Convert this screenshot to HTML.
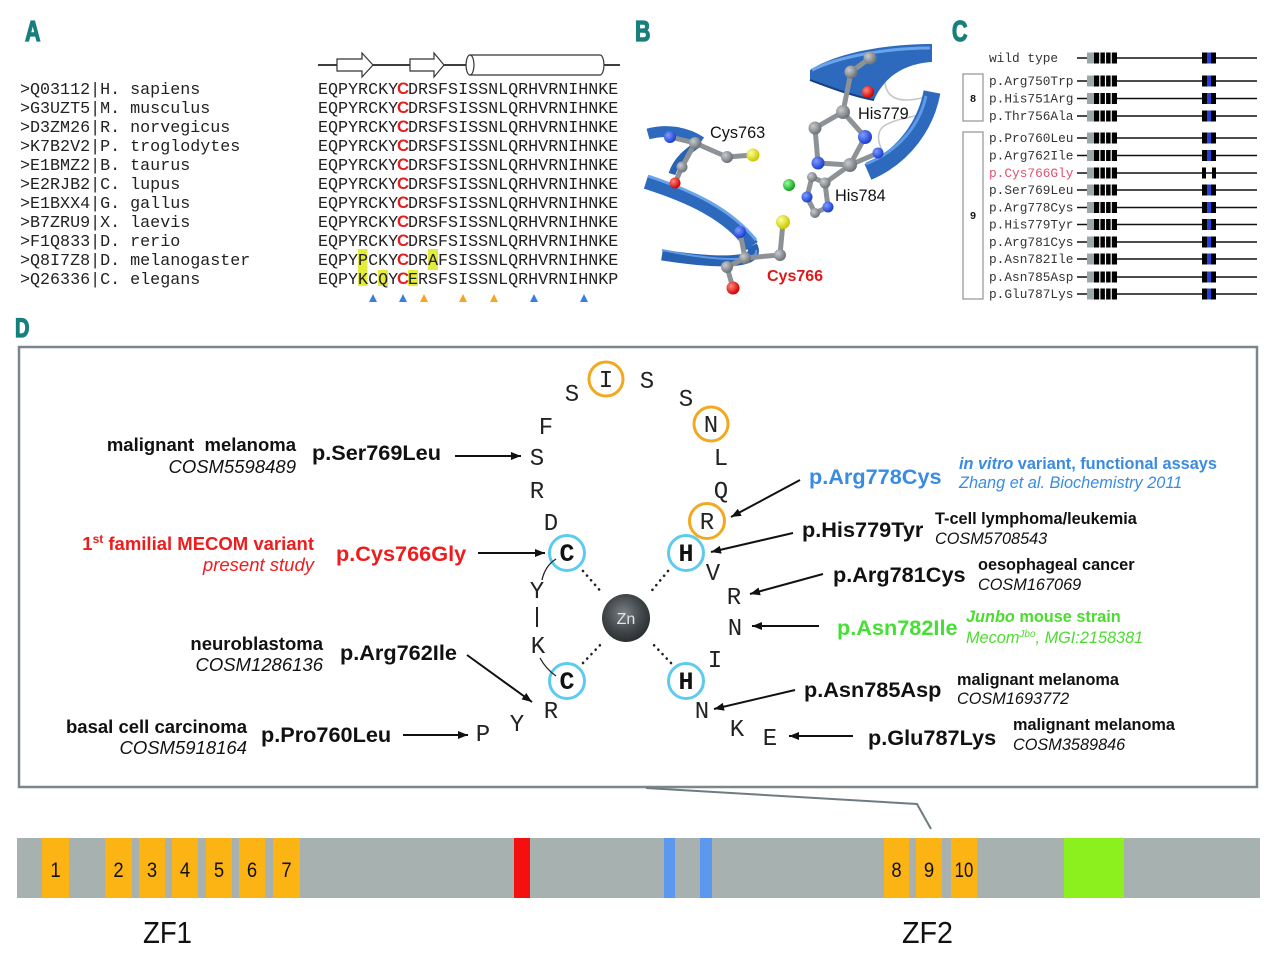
<!DOCTYPE html>
<html><head><meta charset="utf-8"><style>
html,body{margin:0;padding:0;background:#fff;}
svg{display:block;}
</style></head><body>
<svg width="1280" height="954" viewBox="0 0 1280 954" xmlns="http://www.w3.org/2000/svg" font-family="Liberation Sans, Arial, sans-serif">
<defs>
<marker id="ah" viewBox="0 0 10 8" refX="10" refY="4" markerWidth="10" markerHeight="8" markerUnits="userSpaceOnUse" orient="auto"><path d="M0,0 L10,4 L0,8 Z" fill="#111"/></marker>
<radialGradient id="zn" cx="45%" cy="40%" r="60%"><stop offset="0" stop-color="#7a8084"/><stop offset="0.6" stop-color="#43494c"/><stop offset="1" stop-color="#2b2f31"/></radialGradient>
<radialGradient id="gb" cx="35%" cy="35%" r="65%"><stop offset="0" stop-color="#c8ccd0"/><stop offset="1" stop-color="#6e7378"/></radialGradient>
<radialGradient id="bb" cx="35%" cy="35%" r="65%"><stop offset="0" stop-color="#7f9cff"/><stop offset="1" stop-color="#1d3fd0"/></radialGradient>
<radialGradient id="rb" cx="35%" cy="35%" r="65%"><stop offset="0" stop-color="#ff8a80"/><stop offset="1" stop-color="#d40000"/></radialGradient>
<radialGradient id="yb" cx="35%" cy="35%" r="65%"><stop offset="0" stop-color="#ffff9a"/><stop offset="1" stop-color="#c8c800"/></radialGradient>
<radialGradient id="grb" cx="35%" cy="35%" r="65%"><stop offset="0" stop-color="#9cff9c"/><stop offset="1" stop-color="#10a020"/></radialGradient>
</defs>

<!-- Panel labels -->
<g font-weight="bold" font-size="29" fill="#177f7c" stroke="#177f7c" stroke-width="1.3">
<text x="25" y="41" transform="translate(25,41) scale(0.74,1) translate(-25,-41)">A</text>
<text x="635" y="41" transform="translate(635,41) scale(0.74,1) translate(-635,-41)">B</text>
<text x="952" y="41" transform="translate(952,41) scale(0.74,1) translate(-952,-41)">C</text>
<text x="15" y="337" font-size="27" transform="translate(15,337) scale(0.74,1) translate(-15,-337)">D</text>
</g>

<!-- ============ Panel A ============ -->
<g font-size="16.7" fill="#222" font-family="Liberation Mono, monospace">
<text x="20" y="94">&gt;Q03112|H. sapiens</text>
<text x="20" y="113">&gt;G3UZT5|M. musculus</text>
<text x="20" y="132">&gt;D3ZM26|R. norvegicus</text>
<text x="20" y="151">&gt;K7B2V2|P. troglodytes</text>
<text x="20" y="170">&gt;E1BMZ2|B. taurus</text>
<text x="20" y="189">&gt;E2RJB2|C. lupus</text>
<text x="20" y="208">&gt;E1BXX4|G. gallus</text>
<text x="20" y="227">&gt;B7ZRU9|X. laevis</text>
<text x="20" y="246">&gt;F1Q833|D. rerio</text>
<text x="20" y="265">&gt;Q8I7Z8|D. melanogaster</text>
<text x="20" y="284">&gt;Q26336|C. elegans</text>
</g>
<g fill="#e3ec3a">
<rect x="358" y="249" width="9.5" height="21"/>
<rect x="428" y="249" width="10" height="21"/>
<rect x="358" y="269" width="9.5" height="17"/>
<rect x="378" y="270" width="10" height="16"/>
<rect x="408" y="270" width="10" height="16"/>
</g>
<line x1="318" y1="65" x2="620" y2="65" stroke="#222" stroke-width="1.8"/>
<polygon points="337,59 362,59 362,53 373,65 362,77 362,71 337,71" fill="#fff" stroke="#333" stroke-width="1.2"/>
<polygon points="410,59 434,59 434,53 444,65 434,77 434,71 410,71" fill="#fff" stroke="#333" stroke-width="1.2"/>
<path d="M470,55 L600,55 A4,10 0 0 1 600,75 L470,75 Z" fill="#fff" stroke="#333" stroke-width="1.2"/>
<ellipse cx="470" cy="65" rx="4" ry="10" fill="#fff" stroke="#333" stroke-width="1.2"/>
<g font-size="16.7" fill="#222" font-family="Liberation Mono, monospace">
<text y="94"><tspan x="318">EQPYRCKY</tspan><tspan x="403" text-anchor="middle" fill="#e02020" font-weight="bold" font-family="Liberation Sans, sans-serif">C</tspan><tspan x="408">DRSFSISSNLQRHVRNIHNKE</tspan></text>
<text y="113"><tspan x="318">EQPYRCKY</tspan><tspan x="403" text-anchor="middle" fill="#e02020" font-weight="bold" font-family="Liberation Sans, sans-serif">C</tspan><tspan x="408">DRSFSISSNLQRHVRNIHNKE</tspan></text>
<text y="132"><tspan x="318">EQPYRCKY</tspan><tspan x="403" text-anchor="middle" fill="#e02020" font-weight="bold" font-family="Liberation Sans, sans-serif">C</tspan><tspan x="408">DRSFSISSNLQRHVRNIHNKE</tspan></text>
<text y="151"><tspan x="318">EQPYRCKY</tspan><tspan x="403" text-anchor="middle" fill="#e02020" font-weight="bold" font-family="Liberation Sans, sans-serif">C</tspan><tspan x="408">DRSFSISSNLQRHVRNIHNKE</tspan></text>
<text y="170"><tspan x="318">EQPYRCKY</tspan><tspan x="403" text-anchor="middle" fill="#e02020" font-weight="bold" font-family="Liberation Sans, sans-serif">C</tspan><tspan x="408">DRSFSISSNLQRHVRNIHNKE</tspan></text>
<text y="189"><tspan x="318">EQPYRCKY</tspan><tspan x="403" text-anchor="middle" fill="#e02020" font-weight="bold" font-family="Liberation Sans, sans-serif">C</tspan><tspan x="408">DRSFSISSNLQRHVRNIHNKE</tspan></text>
<text y="208"><tspan x="318">EQPYRCKY</tspan><tspan x="403" text-anchor="middle" fill="#e02020" font-weight="bold" font-family="Liberation Sans, sans-serif">C</tspan><tspan x="408">DRSFSISSNLQRHVRNIHNKE</tspan></text>
<text y="227"><tspan x="318">EQPYRCKY</tspan><tspan x="403" text-anchor="middle" fill="#e02020" font-weight="bold" font-family="Liberation Sans, sans-serif">C</tspan><tspan x="408">DRSFSISSNLQRHVRNIHNKE</tspan></text>
<text y="246"><tspan x="318">EQPYRCKY</tspan><tspan x="403" text-anchor="middle" fill="#e02020" font-weight="bold" font-family="Liberation Sans, sans-serif">C</tspan><tspan x="408">DRSFSISSNLQRHVRNIHNKE</tspan></text>
<text y="265"><tspan x="318">EQPYPCKY</tspan><tspan x="403" text-anchor="middle" fill="#e02020" font-weight="bold" font-family="Liberation Sans, sans-serif">C</tspan><tspan x="408">DRAFSISSNLQRHVRNIHNKE</tspan></text>
<text y="284"><tspan x="318">EQPYKCQY</tspan><tspan x="403" text-anchor="middle" fill="#e02020" font-weight="bold" font-family="Liberation Sans, sans-serif">C</tspan><tspan x="408">ERSFSISSNLQRHVRNIHNKP</tspan></text>
</g>
<g>
<polygon points="369,302 377,302 373,294" fill="#3a7fe0"/>
<polygon points="399,302 407,302 403,294" fill="#3a7fe0"/>
<polygon points="420,302 428,302 424,294" fill="#f4a623"/>
<polygon points="459,302 467,302 463,294" fill="#f4a623"/>
<polygon points="490,302 498,302 494,294" fill="#f4a623"/>
<polygon points="530,302 538,302 534,294" fill="#3a7fe0"/>
<polygon points="580,302 588,302 584,294" fill="#3a7fe0"/>
</g>

<!-- ============ Panel B ============ -->
<g>
<path d="M905,46 C892,62 878,74 888,92 C896,104 915,100 930,96" fill="none" stroke="#c4c8cc" stroke-width="1.6"/>
<path d="M930,112 C912,118 896,118 884,126 C876,132 878,142 882,150" fill="none" stroke="#c4c8cc" stroke-width="1.6"/>
<path d="M810,70 C838,52 888,44 932,44 L932,62 C902,64 884,78 874,100 C852,96 826,86 810,80 Z" fill="#2d69bd"/>
<path d="M812,70 C840,56 888,48 930,48" fill="none" stroke="#6aa5ec" stroke-width="3"/>
<path d="M874,100 C852,96 826,86 810,80" fill="none" stroke="#163f7e" stroke-width="2"/>
<path d="M932,92 C926,124 905,156 868,172" fill="none" stroke="#2d69bd" stroke-width="17"/>
<path d="M926,96 C920,124 900,150 866,164" fill="none" stroke="#5f9ae6" stroke-width="3"/>
<path d="M648,134 C666,129 686,132 701,142" fill="none" stroke="#2d69bd" stroke-width="11"/>
<path d="M701,142 C690,150 677,158 672,174" fill="none" stroke="#2a62b2" stroke-width="7"/>
<path d="M646,182 C690,196 730,214 752,246" fill="none" stroke="#2d69bd" stroke-width="14"/>
<path d="M648,176 C690,190 730,208 756,240" fill="none" stroke="#6aa5ec" stroke-width="3"/>
<path d="M752,246 C762,264 720,264 662,255" fill="none" stroke="#2a62b2" stroke-width="11"/>
<path d="M756,250 C760,262 720,262 662,250" fill="none" stroke="#5f9ae6" stroke-width="2"/>
<g stroke="#8d9297" stroke-width="5" stroke-linecap="round" fill="none">
<path d="M870,58 L851,72 L843,112 L865,137 L850,165 L818,163 L815,128 L843,112"/>
<path d="M850,165 L878,153"/>
<path d="M850,165 L825,183 L812,177 L807,197 L815,213 L828,207 L825,183"/>
<path d="M670,137 L695,143 L682,167 L675,183"/>
<path d="M695,143 L727,157 L753,155"/>
<path d="M740,232 L745,258 L727,267 L733,288"/>
<path d="M745,258 L780,255 L783,222"/>
</g>
<g>
<circle cx="870" cy="58" r="6.5" fill="url(#gb)"/>
<circle cx="851" cy="72" r="6.5" fill="url(#gb)"/>
<circle cx="843" cy="112" r="7" fill="url(#gb)"/>
<circle cx="865" cy="137" r="7" fill="url(#bb)"/>
<circle cx="850" cy="165" r="7" fill="url(#gb)"/>
<circle cx="818" cy="163" r="6.5" fill="url(#bb)"/>
<circle cx="815" cy="128" r="6.5" fill="url(#gb)"/>
<circle cx="878" cy="153" r="5.5" fill="url(#bb)"/>
<circle cx="868" cy="92" r="6" fill="url(#rb)"/>
<circle cx="825" cy="183" r="5.5" fill="url(#gb)"/>
<circle cx="812" cy="177" r="5" fill="url(#gb)"/>
<circle cx="807" cy="197" r="5.5" fill="url(#bb)"/>
<circle cx="815" cy="213" r="5" fill="url(#gb)"/>
<circle cx="828" cy="207" r="5.5" fill="url(#bb)"/>
<circle cx="670" cy="137" r="6" fill="url(#bb)"/>
<circle cx="695" cy="143" r="6" fill="url(#gb)"/>
<circle cx="682" cy="167" r="5.5" fill="url(#gb)"/>
<circle cx="675" cy="183" r="5.5" fill="url(#rb)"/>
<circle cx="727" cy="157" r="6" fill="url(#gb)"/>
<circle cx="753" cy="155" r="6.5" fill="url(#yb)"/>
<circle cx="740" cy="232" r="6" fill="url(#bb)"/>
<circle cx="745" cy="258" r="6" fill="url(#gb)"/>
<circle cx="727" cy="267" r="6" fill="url(#gb)"/>
<circle cx="733" cy="288" r="6.5" fill="url(#rb)"/>
<circle cx="780" cy="255" r="6" fill="url(#gb)"/>
<circle cx="783" cy="222" r="7" fill="url(#yb)"/>
<circle cx="789" cy="185" r="6" fill="url(#grb)"/>
</g>
<g font-size="16.3" fill="#111">
<text x="710" y="138">Cys763</text>
<text x="858" y="119">His779</text>
<text x="835" y="201">His784</text>
<text x="767" y="281" fill="#e01818" font-weight="bold" font-size="16">Cys766</text>
</g>
</g>

<!-- ============ Panel C ============ -->
<g font-family="Liberation Mono, monospace" font-size="12.8" fill="#333">
<rect x="963" y="74" width="20" height="47" fill="none" stroke="#9a9a9a" stroke-width="1.3"/>
<rect x="963" y="132" width="20" height="167" fill="none" stroke="#9a9a9a" stroke-width="1.3"/>
<text x="973" y="102" font-family="Liberation Sans, sans-serif" font-weight="bold" font-size="10.5" fill="#111" text-anchor="middle">8</text>
<text x="973" y="219" font-family="Liberation Sans, sans-serif" font-weight="bold" font-size="10.5" fill="#111" text-anchor="middle">9</text>
<text x="989" y="62">wild type</text>
<text x="989" y="85">p.Arg750Trp</text>
<text x="989" y="102.5">p.His751Arg</text>
<text x="989" y="120">p.Thr756Ala</text>
<text x="989" y="142">p.Pro760Leu</text>
<text x="989" y="159.5">p.Arg762Ile</text>
<text x="989" y="177" fill="#e0506e">p.Cys766Gly</text>
<text x="989" y="194">p.Ser769Leu</text>
<text x="989" y="211.5">p.Arg778Cys</text>
<text x="989" y="228.5">p.His779Tyr</text>
<text x="989" y="246">p.Arg781Cys</text>
<text x="989" y="263">p.Asn782Ile</text>
<text x="989" y="281">p.Asn785Asp</text>
<text x="989" y="298">p.Glu787Lys</text>
</g>
<g>
<g transform="translate(0,58)"><line x1="1077" y1="0" x2="1257" y2="0" stroke="#111" stroke-width="1.5"/><rect x="1087" y="-5.5" width="7" height="11" fill="#9ba6a9"/><rect x="1094" y="-5.5" width="23" height="11" fill="#000"/><g stroke="#fff" stroke-width="1.2"><line x1="1099.8" y1="-6" x2="1099.8" y2="6"/><line x1="1105.5" y1="-6" x2="1105.5" y2="6"/><line x1="1111.2" y1="-6" x2="1111.2" y2="6"/></g><rect x="1202" y="-5.5" width="14" height="11" fill="#000"/><rect x="1207" y="-5.5" width="4" height="11" fill="#2a3ed8"/></g>
<g transform="translate(0,81)"><line x1="1077" y1="0" x2="1257" y2="0" stroke="#111" stroke-width="1.5"/><rect x="1087" y="-5.5" width="7" height="11" fill="#9ba6a9"/><rect x="1094" y="-5.5" width="23" height="11" fill="#000"/><g stroke="#fff" stroke-width="1.2"><line x1="1099.8" y1="-6" x2="1099.8" y2="6"/><line x1="1105.5" y1="-6" x2="1105.5" y2="6"/><line x1="1111.2" y1="-6" x2="1111.2" y2="6"/></g><rect x="1202" y="-5.5" width="14" height="11" fill="#000"/><rect x="1207" y="-5.5" width="4" height="11" fill="#2a3ed8"/></g>
<g transform="translate(0,98.5)"><line x1="1077" y1="0" x2="1257" y2="0" stroke="#111" stroke-width="1.5"/><rect x="1087" y="-5.5" width="7" height="11" fill="#9ba6a9"/><rect x="1094" y="-5.5" width="23" height="11" fill="#000"/><g stroke="#fff" stroke-width="1.2"><line x1="1099.8" y1="-6" x2="1099.8" y2="6"/><line x1="1105.5" y1="-6" x2="1105.5" y2="6"/><line x1="1111.2" y1="-6" x2="1111.2" y2="6"/></g><rect x="1202" y="-5.5" width="14" height="11" fill="#000"/><rect x="1207" y="-5.5" width="4" height="11" fill="#2a3ed8"/></g>
<g transform="translate(0,116)"><line x1="1077" y1="0" x2="1257" y2="0" stroke="#111" stroke-width="1.5"/><rect x="1087" y="-5.5" width="7" height="11" fill="#9ba6a9"/><rect x="1094" y="-5.5" width="23" height="11" fill="#000"/><g stroke="#fff" stroke-width="1.2"><line x1="1099.8" y1="-6" x2="1099.8" y2="6"/><line x1="1105.5" y1="-6" x2="1105.5" y2="6"/><line x1="1111.2" y1="-6" x2="1111.2" y2="6"/></g><rect x="1202" y="-5.5" width="14" height="11" fill="#000"/><rect x="1207" y="-5.5" width="4" height="11" fill="#2a3ed8"/></g>
<g transform="translate(0,138)"><line x1="1077" y1="0" x2="1257" y2="0" stroke="#111" stroke-width="1.5"/><rect x="1087" y="-5.5" width="7" height="11" fill="#9ba6a9"/><rect x="1094" y="-5.5" width="23" height="11" fill="#000"/><g stroke="#fff" stroke-width="1.2"><line x1="1099.8" y1="-6" x2="1099.8" y2="6"/><line x1="1105.5" y1="-6" x2="1105.5" y2="6"/><line x1="1111.2" y1="-6" x2="1111.2" y2="6"/></g><rect x="1202" y="-5.5" width="14" height="11" fill="#000"/><rect x="1207" y="-5.5" width="4" height="11" fill="#2a3ed8"/></g>
<g transform="translate(0,155.5)"><line x1="1077" y1="0" x2="1257" y2="0" stroke="#111" stroke-width="1.5"/><rect x="1087" y="-5.5" width="7" height="11" fill="#9ba6a9"/><rect x="1094" y="-5.5" width="23" height="11" fill="#000"/><g stroke="#fff" stroke-width="1.2"><line x1="1099.8" y1="-6" x2="1099.8" y2="6"/><line x1="1105.5" y1="-6" x2="1105.5" y2="6"/><line x1="1111.2" y1="-6" x2="1111.2" y2="6"/></g><rect x="1202" y="-5.5" width="14" height="11" fill="#000"/><rect x="1207" y="-5.5" width="4" height="11" fill="#2a3ed8"/></g>
<g transform="translate(0,173)"><line x1="1077" y1="0" x2="1257" y2="0" stroke="#111" stroke-width="1.5"/><rect x="1087" y="-5.5" width="7" height="11" fill="#9ba6a9"/><rect x="1094" y="-5.5" width="23" height="11" fill="#000"/><g stroke="#fff" stroke-width="1.2"><line x1="1099.8" y1="-6" x2="1099.8" y2="6"/><line x1="1105.5" y1="-6" x2="1105.5" y2="6"/><line x1="1111.2" y1="-6" x2="1111.2" y2="6"/></g><rect x="1202" y="-5.5" width="4" height="11" fill="#000"/><rect x="1212" y="-5.5" width="4" height="11" fill="#000"/></g>
<g transform="translate(0,190)"><line x1="1077" y1="0" x2="1257" y2="0" stroke="#111" stroke-width="1.5"/><rect x="1087" y="-5.5" width="7" height="11" fill="#9ba6a9"/><rect x="1094" y="-5.5" width="23" height="11" fill="#000"/><g stroke="#fff" stroke-width="1.2"><line x1="1099.8" y1="-6" x2="1099.8" y2="6"/><line x1="1105.5" y1="-6" x2="1105.5" y2="6"/><line x1="1111.2" y1="-6" x2="1111.2" y2="6"/></g><rect x="1202" y="-5.5" width="14" height="11" fill="#000"/><rect x="1207" y="-5.5" width="4" height="11" fill="#2a3ed8"/></g>
<g transform="translate(0,207.5)"><line x1="1077" y1="0" x2="1257" y2="0" stroke="#111" stroke-width="1.5"/><rect x="1087" y="-5.5" width="7" height="11" fill="#9ba6a9"/><rect x="1094" y="-5.5" width="23" height="11" fill="#000"/><g stroke="#fff" stroke-width="1.2"><line x1="1099.8" y1="-6" x2="1099.8" y2="6"/><line x1="1105.5" y1="-6" x2="1105.5" y2="6"/><line x1="1111.2" y1="-6" x2="1111.2" y2="6"/></g><rect x="1202" y="-5.5" width="14" height="11" fill="#000"/><rect x="1207" y="-5.5" width="4" height="11" fill="#2a3ed8"/></g>
<g transform="translate(0,224.5)"><line x1="1077" y1="0" x2="1257" y2="0" stroke="#111" stroke-width="1.5"/><rect x="1087" y="-5.5" width="7" height="11" fill="#9ba6a9"/><rect x="1094" y="-5.5" width="23" height="11" fill="#000"/><g stroke="#fff" stroke-width="1.2"><line x1="1099.8" y1="-6" x2="1099.8" y2="6"/><line x1="1105.5" y1="-6" x2="1105.5" y2="6"/><line x1="1111.2" y1="-6" x2="1111.2" y2="6"/></g><rect x="1202" y="-5.5" width="14" height="11" fill="#000"/><rect x="1207" y="-5.5" width="4" height="11" fill="#2a3ed8"/></g>
<g transform="translate(0,242)"><line x1="1077" y1="0" x2="1257" y2="0" stroke="#111" stroke-width="1.5"/><rect x="1087" y="-5.5" width="7" height="11" fill="#9ba6a9"/><rect x="1094" y="-5.5" width="23" height="11" fill="#000"/><g stroke="#fff" stroke-width="1.2"><line x1="1099.8" y1="-6" x2="1099.8" y2="6"/><line x1="1105.5" y1="-6" x2="1105.5" y2="6"/><line x1="1111.2" y1="-6" x2="1111.2" y2="6"/></g><rect x="1202" y="-5.5" width="14" height="11" fill="#000"/><rect x="1207" y="-5.5" width="4" height="11" fill="#2a3ed8"/></g>
<g transform="translate(0,259)"><line x1="1077" y1="0" x2="1257" y2="0" stroke="#111" stroke-width="1.5"/><rect x="1087" y="-5.5" width="7" height="11" fill="#9ba6a9"/><rect x="1094" y="-5.5" width="23" height="11" fill="#000"/><g stroke="#fff" stroke-width="1.2"><line x1="1099.8" y1="-6" x2="1099.8" y2="6"/><line x1="1105.5" y1="-6" x2="1105.5" y2="6"/><line x1="1111.2" y1="-6" x2="1111.2" y2="6"/></g><rect x="1202" y="-5.5" width="14" height="11" fill="#000"/><rect x="1207" y="-5.5" width="4" height="11" fill="#2a3ed8"/></g>
<g transform="translate(0,277)"><line x1="1077" y1="0" x2="1257" y2="0" stroke="#111" stroke-width="1.5"/><rect x="1087" y="-5.5" width="7" height="11" fill="#9ba6a9"/><rect x="1094" y="-5.5" width="23" height="11" fill="#000"/><g stroke="#fff" stroke-width="1.2"><line x1="1099.8" y1="-6" x2="1099.8" y2="6"/><line x1="1105.5" y1="-6" x2="1105.5" y2="6"/><line x1="1111.2" y1="-6" x2="1111.2" y2="6"/></g><rect x="1202" y="-5.5" width="14" height="11" fill="#000"/><rect x="1207" y="-5.5" width="4" height="11" fill="#2a3ed8"/></g>
<g transform="translate(0,294)"><line x1="1077" y1="0" x2="1257" y2="0" stroke="#111" stroke-width="1.5"/><rect x="1087" y="-5.5" width="7" height="11" fill="#9ba6a9"/><rect x="1094" y="-5.5" width="23" height="11" fill="#000"/><g stroke="#fff" stroke-width="1.2"><line x1="1099.8" y1="-6" x2="1099.8" y2="6"/><line x1="1105.5" y1="-6" x2="1105.5" y2="6"/><line x1="1111.2" y1="-6" x2="1111.2" y2="6"/></g><rect x="1202" y="-5.5" width="14" height="11" fill="#000"/><rect x="1207" y="-5.5" width="4" height="11" fill="#2a3ed8"/></g>
</g>

<!-- ============ Panel D ============ -->
<rect x="19" y="347" width="1238" height="440" fill="none" stroke="#7b878b" stroke-width="2.5"/>
<g stroke="#222" stroke-width="2.6" stroke-linecap="round" stroke-dasharray="0.1 6" fill="none">
<line x1="583" y1="571" x2="603" y2="594"/>
<line x1="668" y1="571" x2="649" y2="594"/>
<line x1="583" y1="663" x2="603" y2="642"/>
<line x1="671" y1="663" x2="651" y2="642"/>
</g>
<circle cx="626" cy="618" r="24" fill="url(#zn)"/>
<text x="626" y="624" font-size="16" fill="#e4e4e4" text-anchor="middle">Zn</text>
<g fill="none" stroke-width="3">
<circle cx="606" cy="379" r="17" stroke="#f2a922"/>
<circle cx="711" cy="424" r="17" stroke="#f2a922"/>
<circle cx="707" cy="521" r="17.5" stroke="#f2a922"/>
<circle cx="567" cy="553" r="17.5" stroke="#5ccbee"/>
<circle cx="686" cy="553" r="17.5" stroke="#5ccbee"/>
<circle cx="567" cy="681" r="17.5" stroke="#5ccbee"/>
<circle cx="686" cy="681" r="17.5" stroke="#5ccbee"/>
</g>
<g font-family="Liberation Mono, monospace" font-size="24" fill="#222" text-anchor="middle">
<text x="606" y="387">I</text>
<text x="572" y="401">S</text>
<text x="647" y="388">S</text>
<text x="686" y="406">S</text>
<text x="711" y="432">N</text>
<text x="546" y="434">F</text>
<text x="537" y="465">S</text>
<text x="721" y="465">L</text>
<text x="537" y="498">R</text>
<text x="721" y="498">Q</text>
<text x="551" y="530">D</text>
<text x="707" y="529">R</text>
<text x="713" y="580">V</text>
<text x="537" y="598">Y</text>
<text x="734" y="604">R</text>
<text x="735" y="635">N</text>
<text x="538" y="653">K</text>
<text x="715" y="667">I</text>
<text x="551" y="718">R</text>
<text x="517" y="731">Y</text>
<text x="483" y="741">P</text>
<text x="702" y="718">N</text>
<text x="737" y="736">K</text>
<text x="770" y="745">E</text>
</g>
<g font-family="Liberation Mono, monospace" font-size="25" font-weight="bold" fill="#111" text-anchor="middle">
<text x="567" y="561">C</text>
<text x="686" y="561">H</text>
<text x="567" y="689">C</text>
<text x="686" y="689">H</text>
</g>
<line x1="537" y1="607" x2="537" y2="627" stroke="#222" stroke-width="2"/>
<path d="M556,559 Q545,566 542,580" fill="none" stroke="#222" stroke-width="1.3"/>
<path d="M540,658 Q546,669 556,676" fill="none" stroke="#222" stroke-width="1.3"/>
<g stroke="#111" stroke-width="2" marker-end="url(#ah)">
<line x1="455" y1="456" x2="521" y2="456"/>
<line x1="478" y1="553" x2="545" y2="553"/>
<line x1="467" y1="655" x2="532" y2="702"/>
<line x1="403" y1="735" x2="468" y2="735"/>
<line x1="800" y1="480" x2="731" y2="517"/>
<line x1="793" y1="533" x2="711" y2="552"/>
<line x1="823" y1="574" x2="750" y2="594"/>
<line x1="819" y1="626" x2="752" y2="626"/>
<line x1="795" y1="690" x2="714" y2="709"/>
<line x1="853" y1="736" x2="789" y2="736"/>
</g>
<g font-size="18.5" fill="#111">
<text x="296" y="451" text-anchor="end" font-weight="bold" xml:space="preserve">malignant  melanoma</text>
<text x="296" y="473" text-anchor="end" font-style="italic">COSM5598489</text>
<text x="314" y="550" text-anchor="end" font-weight="bold" fill="#ee1c1c">1<tspan font-size="12" dy="-7">st</tspan><tspan dy="7"> familial MECOM variant</tspan></text>
<text x="314" y="571" text-anchor="end" font-style="italic" fill="#ee1c1c">present study</text>
<text x="323" y="650" text-anchor="end" font-weight="bold">neuroblastoma</text>
<text x="323" y="671" text-anchor="end" font-style="italic">COSM1286136</text>
<text x="247" y="733" text-anchor="end" font-weight="bold">basal cell carcinoma</text>
<text x="247" y="754" text-anchor="end" font-style="italic">COSM5918164</text>
</g>
<g font-size="21.7" font-weight="bold" fill="#111">
<text x="312" y="460">p.Ser769Leu</text>
<text x="336" y="561" fill="#ee1c1c">p.Cys766Gly</text>
<text x="340" y="660">p.Arg762Ile</text>
<text x="261" y="742">p.Pro760Leu</text>
<text x="809" y="484" fill="#3a8be2">p.Arg778Cys</text>
<text x="802" y="537">p.His779Tyr</text>
<text x="833" y="582">p.Arg781Cys</text>
<text x="837" y="635" fill="#45e034">p.Asn782Ile</text>
<text x="804" y="697">p.Asn785Asp</text>
<text x="868" y="745">p.Glu787Lys</text>
</g>
<g font-size="16.3" fill="#111">
<text x="959" y="469" fill="#3a8be2" font-weight="bold"><tspan font-style="italic">in vitro</tspan> variant, functional assays</text>
<text x="959" y="488" fill="#3a8be2" font-style="italic">Zhang et al. Biochemistry 2011</text>
<text x="935" y="524" font-weight="bold">T-cell lymphoma/leukemia</text>
<text x="935" y="544" font-style="italic">COSM5708543</text>
<text x="978" y="570" font-weight="bold">oesophageal cancer</text>
<text x="978" y="590" font-style="italic">COSM167069</text>
<text x="966" y="622" fill="#4cdc30" font-weight="bold"><tspan font-style="italic">Junbo</tspan> mouse strain</text>
<text x="966" y="643" fill="#4cdc30" font-style="italic">Mecom<tspan font-size="10" dy="-6">Jbo</tspan><tspan dy="6">, MGI:2158381</tspan></text>
<text x="957" y="685" font-weight="bold">malignant melanoma</text>
<text x="957" y="704" font-style="italic">COSM1693772</text>
<text x="1013" y="730" font-weight="bold">malignant melanoma</text>
<text x="1013" y="750" font-style="italic">COSM3589846</text>
</g>
<polyline points="646,788 917,804 931,829" fill="none" stroke="#6e7c82" stroke-width="2"/>

<!-- ============ Domain bar ============ -->
<rect x="17" y="838" width="1243" height="60" fill="#a7b1af"/>
<g fill="#fcb415">
<rect x="42" y="838" width="27" height="60"/>
<rect x="105" y="838" width="27" height="60"/>
<rect x="139" y="838" width="26" height="60"/>
<rect x="172" y="838" width="26" height="60"/>
<rect x="206" y="838" width="26" height="60"/>
<rect x="239" y="838" width="26" height="60"/>
<rect x="273" y="838" width="27" height="60"/>
<rect x="884" y="838" width="25" height="60"/>
<rect x="916" y="838" width="26" height="60"/>
<rect x="951" y="838" width="26" height="60"/>
</g>
<rect x="514" y="838" width="16" height="60" fill="#f51010"/>
<rect x="664" y="838" width="11" height="60" fill="#5b98ee"/>
<rect x="700" y="838" width="12" height="60" fill="#5b98ee"/>
<rect x="1064" y="838" width="60" height="60" fill="#8cf01e"/>
<g font-size="21" fill="#111" text-anchor="middle">
<text x="55.5" y="877" transform="translate(55.5,0) scale(0.88,1) translate(-55.5,0)">1</text>
<text x="118.5" y="877" transform="translate(118.5,0) scale(0.88,1) translate(-118.5,0)">2</text>
<text x="152" y="877" transform="translate(152,0) scale(0.88,1) translate(-152,0)">3</text>
<text x="185" y="877" transform="translate(185,0) scale(0.88,1) translate(-185,0)">4</text>
<text x="219" y="877" transform="translate(219,0) scale(0.88,1) translate(-219,0)">5</text>
<text x="252" y="877" transform="translate(252,0) scale(0.88,1) translate(-252,0)">6</text>
<text x="286.5" y="877" transform="translate(286.5,0) scale(0.88,1) translate(-286.5,0)">7</text>
<text x="896.5" y="877" transform="translate(896.5,0) scale(0.88,1) translate(-896.5,0)">8</text>
<text x="929" y="877" transform="translate(929,0) scale(0.88,1) translate(-929,0)">9</text>
<text x="964" y="877" transform="translate(964,0) scale(0.8,1) translate(-964,0)">10</text>
</g>
<text x="143" y="943" font-size="31" fill="#111" textLength="49" lengthAdjust="spacingAndGlyphs">ZF1</text>
<text x="902" y="943" font-size="31" fill="#111" textLength="51" lengthAdjust="spacingAndGlyphs">ZF2</text>
</svg>
</body></html>
